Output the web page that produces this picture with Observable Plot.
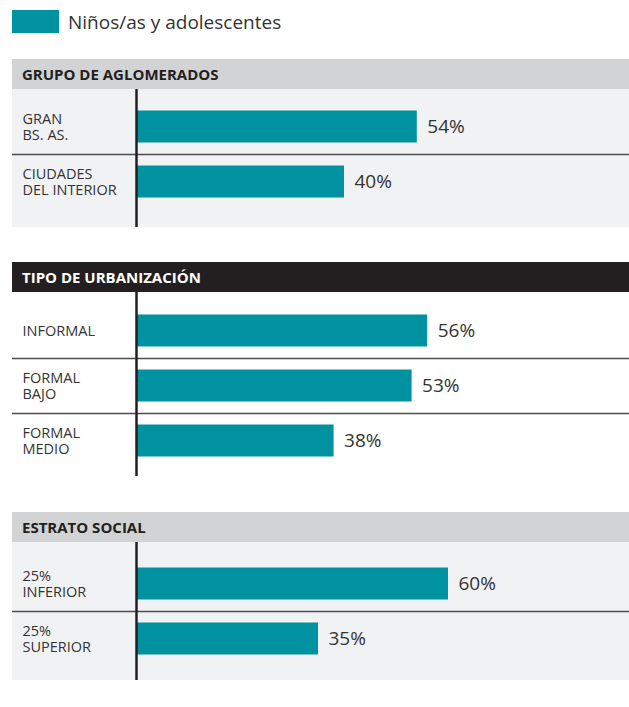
<!DOCTYPE html>
<html><head><meta charset="utf-8">
<script src="https://cdn.jsdelivr.net/npm/d3@7"></script>
<script src="https://cdn.jsdelivr.net/npm/@observablehq/plot@0.6"></script>
<style>
body{margin:0;background:#fff;font-family:"Open Sans",sans-serif;}
#wrap{position:relative;width:629px;height:707px;}
.legend{position:absolute;left:12px;top:10px;display:flex;align-items:center;height:23px;}
.sw{width:47px;height:23px;background:#0092a0;}
.lt{margin-left:9px;font-size:19px;color:#333;white-space:nowrap;}
.panel{position:absolute;left:12px;width:617px;}
.hdr{height:30px;line-height:30px;padding-left:10px;font-weight:700;font-size:15px;box-sizing:border-box;}
svg{display:block;}
</style></head><body>
<div id="wrap"></div>
<script>
const legendLabel = "Niños/as y adolescentes";
const panelTitles = ["GRUPO DE AGLOMERADOS", "TIPO DE URBANIZACIÓN", "ESTRATO SOCIAL"];
const aglomeradosCats = ["GRAN\nBS. AS.", "CIUDADES\nDEL INTERIOR"];
const aglomeradosVals = [54, 40];
const urbanizacionCats = ["INFORMAL", "FORMAL\nBAJO", "FORMAL\nMEDIO"];
const urbanizacionVals = [56, 53, 38];
const estratoCats = ["25%\nINFERIOR", "25%\nSUPERIOR"];
const estratoVals = [60, 35];

const TEAL = "#0092a0";
const wrap = document.getElementById("wrap");

const leg = document.createElement("div");
leg.className = "legend";
leg.innerHTML = `<div class="sw"></div><div class="lt"></div>`;
leg.querySelector(".lt").textContent = legendLabel;
wrap.appendChild(leg);

function panel(title, cats, vals, o) {
  const data = cats.map((c, i) => ({cat: c, val: vals[i]}));
  const div = document.createElement("div");
  div.className = "panel";
  div.style.top = o.top + "px";
  const hdr = document.createElement("div");
  hdr.className = "hdr";
  hdr.style.background = o.hbg;
  hdr.style.color = o.hfg;
  hdr.textContent = title;
  div.appendChild(hdr);
  const chart = Plot.plot({
    width: 617, height: o.height,
    marginLeft: 124, marginRight: 25, marginTop: o.mt, marginBottom: o.mb,
    style: {background: o.bg, fontFamily: "Open Sans", color: "#333", overflow: "visible"},
    x: {domain: [0, 90], axis: null},
    y: {domain: cats, axis: null, padding: 0},
    marks: [
      Plot.ruleY(cats.slice(1), {y: d => d, dy: -27.5, insetLeft: -124, insetRight: -25, stroke: "#4d4d4f", strokeWidth: 1.5}),
      Plot.barX(data, {x: "val", y: "cat", fill: TEAL, insetTop: 11.5, insetBottom: 11.5}),
      Plot.ruleX([0], {insetTop: -o.mt, insetBottom: -o.mb, stroke: "#231f20", strokeWidth: 2.5}),
      Plot.text(data, {x: "val", y: "cat", text: d => d.val + "%", dx: 10, textAnchor: "start", fontSize: 19, fill: "#333"}),
      Plot.text(data, {y: "cat", text: "cat", frameAnchor: "left", dx: -114, textAnchor: "start", fontSize: 14.5, lineHeight: 1.06, fill: "#333"})
    ]
  });
  div.appendChild(chart);
  wrap.appendChild(div);
}

panel(panelTitles[0], aglomeradosCats, aglomeradosVals, {top: 59, height: 138, mt: 9.5, mb: 18.5, bg: "#f1f2f4", hbg: "#d1d3d4", hfg: "#231f20"});
panel(panelTitles[1], urbanizacionCats, urbanizacionVals, {top: 262, height: 184, mt: 11, mb: 8, bg: "#ffffff", hbg: "#231f20", hfg: "#ffffff"});
panel(panelTitles[2], estratoCats, estratoVals, {top: 512, height: 138, mt: 13.5, mb: 14.5, bg: "#f1f2f4", hbg: "#d1d3d4", hfg: "#231f20"});
</script>
</body></html>
